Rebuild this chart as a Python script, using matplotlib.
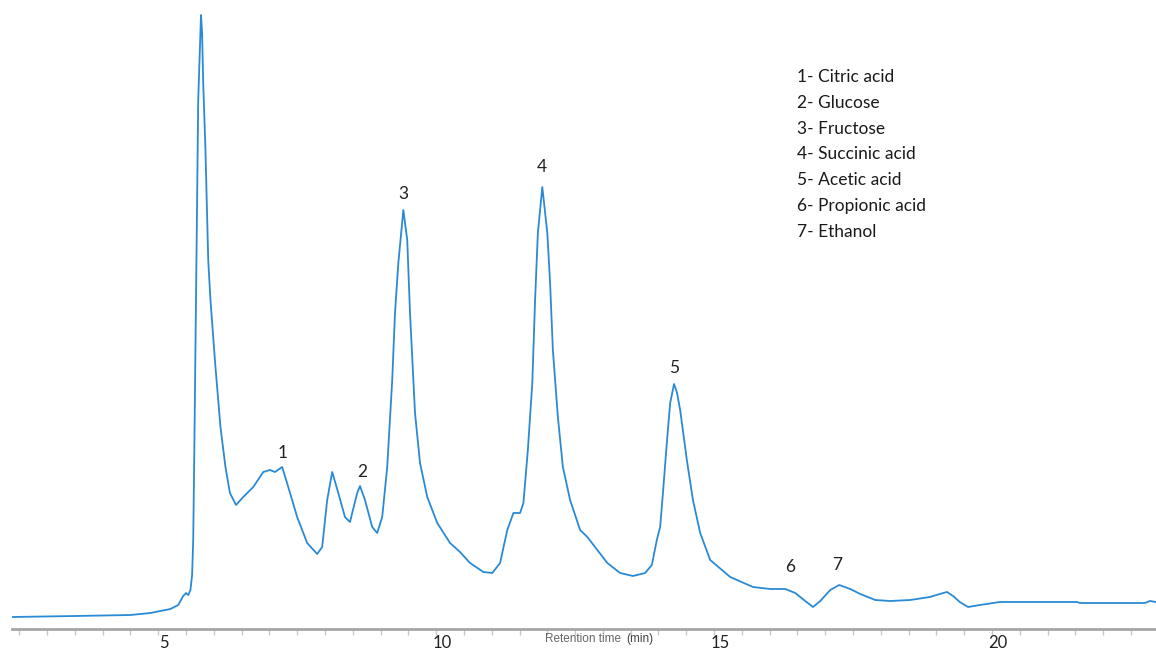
import numpy as np
import matplotlib.pyplot as plt
import matplotlib.transforms as mtransforms

# retention time (min) and detector signal (arbitrary units, baseline ~0)
rt = [2.37, 3.51, 4.50, 4.68, 4.86, 5.04, 5.22, 5.36, 5.45, 5.50, 5.54, 5.58,
      5.61, 5.63, 5.65, 5.68, 5.72, 5.76, 5.77, 5.79, 5.81, 5.85, 5.88, 5.90,
      5.94, 6.03, 6.12, 6.21, 6.29, 6.40, 6.53, 6.71, 6.89, 7.01, 7.10, 7.23,
      7.34, 7.50, 7.68, 7.86, 7.95, 8.04, 8.13, 8.24, 8.36, 8.45, 8.58, 8.63,
      8.72, 8.85, 8.94, 9.03, 9.12, 9.21, 9.26, 9.32, 9.41, 9.48, 9.53, 9.62,
      9.71, 9.84, 10.02, 10.25, 10.43, 10.61, 10.85, 11.01, 11.15, 11.28, 11.39,
      11.51, 11.57, 11.65, 11.73, 11.78, 11.83, 11.91, 12.00, 12.05, 12.10,
      12.19, 12.28, 12.41, 12.59, 12.72, 12.90, 13.08, 13.31, 13.54, 13.76,
      13.88, 13.97, 14.03, 14.08, 14.15, 14.21, 14.28, 14.33, 14.39, 14.51,
      14.62, 14.75, 14.93, 15.29, 15.70, 16.01, 16.28, 16.46, 16.64, 16.78,
      16.91, 17.09, 17.25, 17.45, 17.63, 17.90, 18.17, 18.53, 18.88, 19.06,
      19.19, 19.30, 19.42, 19.57, 19.78, 20.14, 21.53, 21.58, 22.75, 22.84, 22.95]
signal = [0, 1, 2, 3, 4, 6, 8, 12, 21, 24, 22, 27,
          42, 77, 167, 317, 517, 587, 602, 584, 534, 467, 400, 357,
          317, 250, 190, 150, 124, 112, 120, 130, 145, 147, 145, 150,
          130, 100, 74, 63, 70, 117, 145, 124, 100, 95, 124, 131,
          117, 90, 84, 100, 150, 237, 304, 354, 407, 377, 304, 204,
          154, 120, 94, 74, 65, 54, 45, 44, 54, 87, 104,
          104, 114, 167, 234, 317, 384, 430, 384, 334, 267,
          200, 150, 117, 87, 80, 67, 54, 44, 41, 44,
          52, 77, 90, 124, 174, 214, 233, 225, 207, 157,
          117, 84, 57, 40, 30, 28, 28, 24, 16, 10,
          16, 27, 32, 28, 23, 17, 16, 17, 20, 23,
          25, 21, 15, 10, 12, 15, 15, 14, 14, 16, 15]

peak_ids = ["1", "2", "3", "4", "5", "6", "7"]
peak_rt = [7.23, 8.67, 9.41, 11.91, 14.28, 16.37, 17.22]
peak_lab_y = [164, 145, 423, 450, 249, 50, 52]
compounds = ["Citric acid", "Glucose", "Fructose", "Succinic acid",
             "Acetic acid", "Propionic acid", "Ethanol"]

plt.rcParams['font.family'] = ['Lato', 'DejaVu Sans']

fig = plt.figure(figsize=(11.56, 6.51), dpi=100)
ax = fig.add_axes([12/1156, 22/651, 1144/1156, 629/651])
ax.plot(rt, signal, color="#2a8ad6", lw=1.3)
ax.set_xlim(2.37, 22.95)
ax.set_ylim(-12, 617)

for s in ["top", "right", "left"]:
    ax.spines[s].set_visible(False)
ax.spines["bottom"].set_color("#a6a6a6")
ax.spines["bottom"].set_linewidth(2)
ax.set_yticks([])
ax.set_xticks(np.arange(2.5, 23, 0.5), minor=True)
ax.set_xticks([5, 10, 15, 20])
ax.tick_params(axis="x", which="both", length=4, width=1, color="#c8c8c8",
               labelsize=12, labelcolor="#222222", pad=0.5)
off = mtransforms.ScaledTranslation(6/100, 0, fig.dpi_scale_trans)
for lb in ax.get_xticklabels():
    lb.set_transform(lb.get_transform() + off)

# axis title
t1 = fig.text(545/1156, 1 - 639/651, "Retention time", fontsize=8.5, color="#666666",
              va="center", ha="left", family=["Liberation Sans", "DejaVu Sans"])
ax.annotate("(min)", xy=(1, 0.5), xycoords=t1, xytext=(4, 0), textcoords="offset points",
            fontsize=8.5, color="#444444", va="center", ha="left",
            family=["Liberation Sans", "DejaVu Sans"], annotation_clip=False)

for pid, px, py in zip(peak_ids, peak_rt, peak_lab_y):
    ax.text(px, py, pid, ha="center", va="center", fontsize=12.5, color="#222222")

for i, name in enumerate(compounds):
    fig.text(797/1156, 1 - (77 + 25.8*i)/651, f"{i+1}- {name}", fontsize=12.5,
             color="#1a1a1a", va="center", ha="left")

fig.savefig("out.png", dpi=100)
